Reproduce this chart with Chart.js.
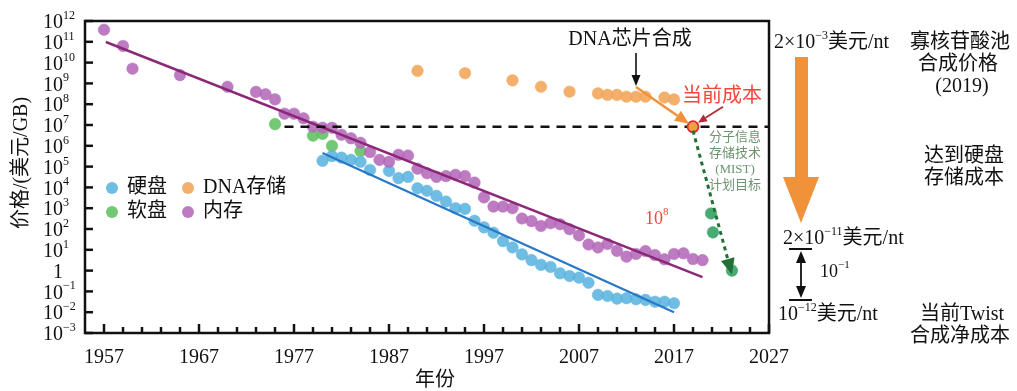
<!DOCTYPE html>
<html>
<head>
<meta charset="utf-8">
<script src="https://cdn.jsdelivr.net/npm/chart.js@4.4.0/dist/chart.umd.min.js"></script>
<style>
  html, body { margin: 0; padding: 0; background: #fff; }
  #wrap { width: 1017px; height: 391px; }
</style>
</head>
<body>
<div id="wrap"><canvas id="chart" width="1017" height="391"></canvas></div>
<script>
// Storage price per GB (USD)
const memoryYears = [1957, 1959, 1960, 1965, 1970, 1973, 1974, 1975, 1976, 1977, 1978, 1979, 1980, 1981, 1982, 1983,
  1984, 1985, 1986, 1987, 1988, 1989, 1990, 1991, 1992, 1993, 1994, 1995, 1996, 1997, 1998, 1999, 2000, 2001, 2002,
  2003, 2004, 2005, 2006, 2007, 2008, 2009, 2010, 2011, 2012, 2013, 2014, 2015, 2016, 2017, 2018, 2019, 2020];
const memoryPrice = [3.8e11, 6.3e10, 5.1e9, 2.5e9, 6.9e8, 3.9e8, 3.0e8, 1.7e8, 3.5e7, 3.5e7, 2.1e7, 8.3e6, 7.4e6, 7.4e6,
  3.4e6, 2.3e6, 1.4e6, 5.0e5, 2.1e5, 1.7e5, 3.7e5, 3.4e5, 7.9e4, 4.8e4, 3.2e4, 3.5e4, 4.0e4, 3.5e4, 1.7e4, 3.3e3,
  1.2e3, 1.2e3, 1.0e3, 320, 240, 140, 190, 170, 98, 49, 18, 13, 19, 8.9, 4.7, 6.3, 8.7, 5.6, 3.5, 6.3, 6.8, 3.6, 3.2];

const diskYears = [1980, 1981, 1982, 1983, 1984, 1985, 1987, 1988, 1989, 1990, 1991, 1992, 1993, 1994, 1995, 1996, 1997,
  1998, 1999, 2000, 2001, 2002, 2003, 2004, 2005, 2006, 2007, 2008, 2009, 2010, 2011, 2012, 2013, 2014, 2015, 2016, 2017];
const diskPrice = [1.9e5, 3.2e5, 2.7e5, 2.1e5, 1.7e5, 6.9e4, 6.2e4, 2.8e4, 3.2e4, 9.1e3, 6.9e3, 3.9e3, 2.1e3, 1.0e3, 930,
  250, 120, 66, 26, 13, 6.0, 3.2, 1.9, 1.5, 0.74, 0.55, 0.46, 0.26, 0.068, 0.060, 0.045, 0.047, 0.042, 0.039, 0.032,
  0.032, 0.027];

const floppyYears = [1975, 1979, 1980, 1981, 1984];
const floppyPrice = [1.1e7, 3.1e6, 3.7e6, 1.0e6, 5.6e5];

const dnaYears = [1990, 1995, 2000, 2003, 2006, 2009, 2010, 2011, 2012, 2013, 2014, 2016, 2017];
const dnaPrice = [4.0e9, 3.1e9, 1.4e9, 6.9e8, 4.0e8, 3.3e8, 2.8e8, 2.8e8, 2.3e8, 2.3e8, 2.3e8, 2.1e8, 1.7e8];

const currentYear = [2019];
const currentPrice = [8.3e6];

const mistYears = [2020.9, 2021.1, 2023.1];
const mistPrice = [560, 69, 1.0];

const memoryTrendYears = [1957.2, 2020];
const memoryTrendPrice = [9.8e10, 0.49];
const diskTrendYears = [1980, 2017];
const diskTrendPrice = [4.5e5, 0.01];
const thresholdYears = [1976, 2027];
const thresholdPrice = [8.3e6, 8.3e6];

// axes
const xMin = 1955, xMax = 2027;
const xTickLabels = ['1957', '1967', '1977', '1987', '1997', '2007', '2017', '2027'];
const yExponents = [12, 11, 10, 9, 8, 7, 6, 5, 4, 3, 2, 1, 0, -1, -2, -3];

const legendLabels = ['硬盘', 'DNA存储', '软盘', '内存'];

const SERIF = '"Liberation Serif", "Times New Roman", "Noto Sans CJK SC", serif';
const font = (px) => px + 'px ' + SERIF;

const pts = (xs, ys) => xs.map((x, i) => ({ x: x, y: ys[i] }));

const COLORS = {
  disk: 'rgba(92, 180, 224, 0.88)',
  floppy: 'rgba(96, 192, 96, 0.88)',
  memory: 'rgba(180, 106, 186, 0.88)',
  dna: 'rgba(242, 166, 92, 0.9)',
  mist: 'rgba(52, 162, 100, 0.9)',
};

// text with superscripts: parts = [[text, isSup], ...]
function richWidth(ctx, parts, size) {
  let w = 0;
  parts.forEach(([t, sup]) => { ctx.font = font(sup ? Math.round(size * 0.62) : size); w += ctx.measureText(t).width; });
  return w;
}
function drawRich(ctx, parts, x, y, size, align) {
  const w = richWidth(ctx, parts, size);
  let cx = align === 'center' ? x - w / 2 : align === 'right' ? x - w : x;
  ctx.textAlign = 'left';
  ctx.textBaseline = 'middle';
  parts.forEach(([t, sup]) => {
    ctx.font = font(sup ? Math.round(size * 0.62) : size);
    ctx.fillText(t, cx, sup ? y - size * 0.36 : y);
    cx += ctx.measureText(t).width;
  });
}

function arrow(ctx, x1, y1, x2, y2, color, width, headLen, headW, dash) {
  const ang = Math.atan2(y2 - y1, x2 - x1);
  const bx = x2 - headLen * Math.cos(ang), by = y2 - headLen * Math.sin(ang);
  ctx.save();
  ctx.strokeStyle = color;
  ctx.fillStyle = color;
  ctx.lineWidth = width;
  if (dash) ctx.setLineDash(dash);
  ctx.beginPath(); ctx.moveTo(x1, y1); ctx.lineTo(bx, by); ctx.stroke();
  ctx.setLineDash([]);
  ctx.beginPath();
  ctx.moveTo(x2, y2);
  ctx.lineTo(bx + headW / 2 * Math.sin(ang), by - headW / 2 * Math.cos(ang));
  ctx.lineTo(bx - headW / 2 * Math.sin(ang), by + headW / 2 * Math.cos(ang));
  ctx.closePath();
  ctx.fill();
  ctx.restore();
}

const decor = {
  id: 'decor',
  afterDatasetsDraw(chart) {
    const { ctx, chartArea: a } = chart;
    const xs = chart.scales.x, ys = chart.scales.y;
    ctx.save();

    // DNA chip synthesis -> current cost
    const chipX = xs.getPixelForValue(2013);
    arrow(ctx, chipX, 53, chipX, 86, '#111', 1.6, 11, 9);
    const cx = xs.getPixelForValue(currentYear[0]), cy = ys.getPixelForValue(currentPrice[0]);
    arrow(ctx, chipX, 87, cx - 4, cy - 3, 'rgb(240,146,58)', 2.5, 14, 12);
    arrow(ctx, cx + 30, cy - 20, cx + 5, cy - 4, 'rgb(176,44,56)', 1.8, 9, 8);

    // MIST target arrow
    const ex = xs.getPixelForValue(mistYears[2]), ey = ys.getPixelForValue(mistPrice[2]);
    arrow(ctx, cx, cy + 4, ex, ey + 4, 'rgb(34,112,56)', 3, 16, 14, [4, 4]);

    ctx.fillStyle = '#111';
    ctx.font = font(20);
    ctx.textAlign = 'center';
    ctx.textBaseline = 'middle';
    ctx.fillText('DNA芯片合成', 630, 40);
    ctx.fillStyle = 'rgb(240,72,60)';
    ctx.textAlign = 'left';
    ctx.fillText('当前成本', 682, 97);
    drawRich(ctx, [['10', false], ['8', true]], 645, 219, 18, 'left');

    ctx.fillStyle = 'rgb(108,148,112)';
    ctx.font = font(13);
    ctx.textAlign = 'center';
    ['分子信息', '存储技术', '(MIST)', '计划目标'].forEach((t, i) => ctx.fillText(t, 735, 138 + i * 16));

    // frame
    ctx.strokeStyle = '#111';
    ctx.lineWidth = 2.5;
    ctx.strokeRect(a.left, a.top, a.right - a.left, a.bottom - a.top);

    // inward ticks
    ctx.lineWidth = 2.5;
    for (let yr = 1957; yr <= xMax; yr += 2) {
      const px = xs.getPixelForValue(yr);
      const len = (yr - 1957) % 10 === 0 ? 9 : 6;
      ctx.beginPath(); ctx.moveTo(px, a.bottom); ctx.lineTo(px, a.bottom - len); ctx.stroke();
    }
    yExponents.forEach(e => {
      const py = ys.getPixelForValue(Math.pow(10, e));
      ctx.beginPath(); ctx.moveTo(a.left, py); ctx.lineTo(a.left + 8, py); ctx.stroke();
    });

    // tick labels
    ctx.fillStyle = '#111';
    ctx.font = font(20);
    ctx.textAlign = 'center';
    ctx.textBaseline = 'middle';
    xTickLabels.forEach(t => ctx.fillText(t, xs.getPixelForValue(+t), 358));
    yExponents.forEach(e => {
      const py = ys.getPixelForValue(Math.pow(10, e)) + 2;
      if (e === 0) {
        ctx.font = font(20); ctx.textAlign = 'center'; ctx.fillText('1', 58, py);
      } else {
        drawRich(ctx, [['10', false], [String(e).replace('-', '−'), true]], 43, py, 20, 'left');
      }
    });

    // axis titles
    ctx.font = font(20);
    ctx.textAlign = 'center';
    ctx.fillText('年份', 435, 381);
    ctx.save();
    ctx.translate(22, 163);
    ctx.rotate(-Math.PI / 2);
    ctx.fillText('价格/(美元/GB)', 0, 0);
    ctx.restore();

    // legend (2 x 2)
    const legendColors = [COLORS.disk, COLORS.dna, COLORS.floppy, COLORS.memory];
    legendLabels.forEach((t, i) => {
      const lx = i % 2 === 0 ? 112 : 188;
      const ly = i < 2 ? 188 : 212;
      ctx.fillStyle = legendColors[i];
      ctx.beginPath(); ctx.arc(lx, ly, 6, 0, Math.PI * 2); ctx.fill();
      ctx.fillStyle = '#111';
      ctx.font = font(20);
      ctx.textAlign = 'left';
      ctx.fillText(t, lx + 15, ly);
    });

    // right-hand cost annotations
    ctx.fillStyle = 'rgb(240,146,58)';
    ctx.fillRect(795, 57, 13, 121);
    ctx.beginPath(); ctx.moveTo(783, 177); ctx.lineTo(819, 177); ctx.lineTo(801, 223); ctx.closePath(); ctx.fill();

    ctx.strokeStyle = '#111';
    ctx.lineWidth = 1.8;
    ctx.beginPath();
    ctx.moveTo(789, 249); ctx.lineTo(812, 249);
    ctx.moveTo(789, 300); ctx.lineTo(812, 300);
    ctx.stroke();
    arrow(ctx, 801, 275, 801, 251, '#111', 1.8, 12, 10);
    arrow(ctx, 801, 275, 801, 298, '#111', 1.8, 12, 10);

    ctx.fillStyle = '#111';
    drawRich(ctx, [['2×10', false], ['−3', true], ['美元/nt', false]], 774, 43, 20, 'left');
    drawRich(ctx, [['2×10', false], ['−11', true], ['美元/nt', false]], 783, 239, 20, 'left');
    drawRich(ctx, [['10', false], ['−1', true]], 820, 272, 18, 'left');
    drawRich(ctx, [['10', false], ['−12', true], ['美元/nt', false]], 778, 315, 20, 'left');

    ctx.font = font(20);
    ctx.textAlign = 'center';
    ctx.textBaseline = 'middle';
    [['寡核苷酸池', 960, 43], ['合成价格', 958, 65], ['(2019)', 962, 87],
     ['达到硬盘', 964, 157], ['存储成本', 964, 179],
     ['当前Twist', 962, 315], ['合成净成本', 960, 337]].forEach(([t, x, y]) => ctx.fillText(t, x, y));

    ctx.restore();
  }
};

const scatterSet = (label, xs, ys, color, extra) => Object.assign({
  label: label,
  data: pts(xs, ys),
  backgroundColor: color,
  borderColor: color,
  borderWidth: 0.5,
  pointRadius: 5.8,
  showLine: false,
  order: 2,
}, extra || {});

const lineSet = (label, xs, ys, color, width, dash) => ({
  label: label,
  data: pts(xs, ys),
  borderColor: color,
  borderWidth: width,
  borderDash: dash || [],
  pointRadius: 0,
  showLine: true,
  fill: false,
  order: 1,
});

new Chart(document.getElementById('chart'), {
  type: 'scatter',
  data: {
    datasets: [
      lineSet('阈值', thresholdYears, thresholdPrice, '#111', 2.5, [9, 7]),
      scatterSet('当前成本', currentYear, currentPrice, 'rgb(242,160,70)', { borderColor: 'rgb(225,40,40)', borderWidth: 1.8, pointRadius: 5.5, order: 0 }),
      lineSet('内存趋势', memoryTrendYears, memoryTrendPrice, 'rgb(140,40,120)', 2.5),
      lineSet('硬盘趋势', diskTrendYears, diskTrendPrice, 'rgb(40,120,200)', 2.2),
      scatterSet('DNA存储', dnaYears, dnaPrice, COLORS.dna),
      scatterSet('MIST', mistYears, mistPrice, COLORS.mist),
      scatterSet('内存', memoryYears, memoryPrice, COLORS.memory),
      scatterSet('硬盘', diskYears, diskPrice, COLORS.disk),
      scatterSet('软盘', floppyYears, floppyPrice, COLORS.floppy),
    ],
  },
  options: {
    responsive: false,
    animation: false,
    devicePixelRatio: 1,
    events: [],
    layout: { autoPadding: false, padding: { left: 85, right: 248, top: 21, bottom: 58 } },
    plugins: { legend: { display: false }, tooltip: { enabled: false } },
    scales: {
      x: { type: 'linear', min: xMin, max: xMax, display: false },
      y: { type: 'logarithmic', min: 1e-3, max: 1e12, display: false },
    },
  },
  plugins: [decor],
});
</script>
</body>
</html>
